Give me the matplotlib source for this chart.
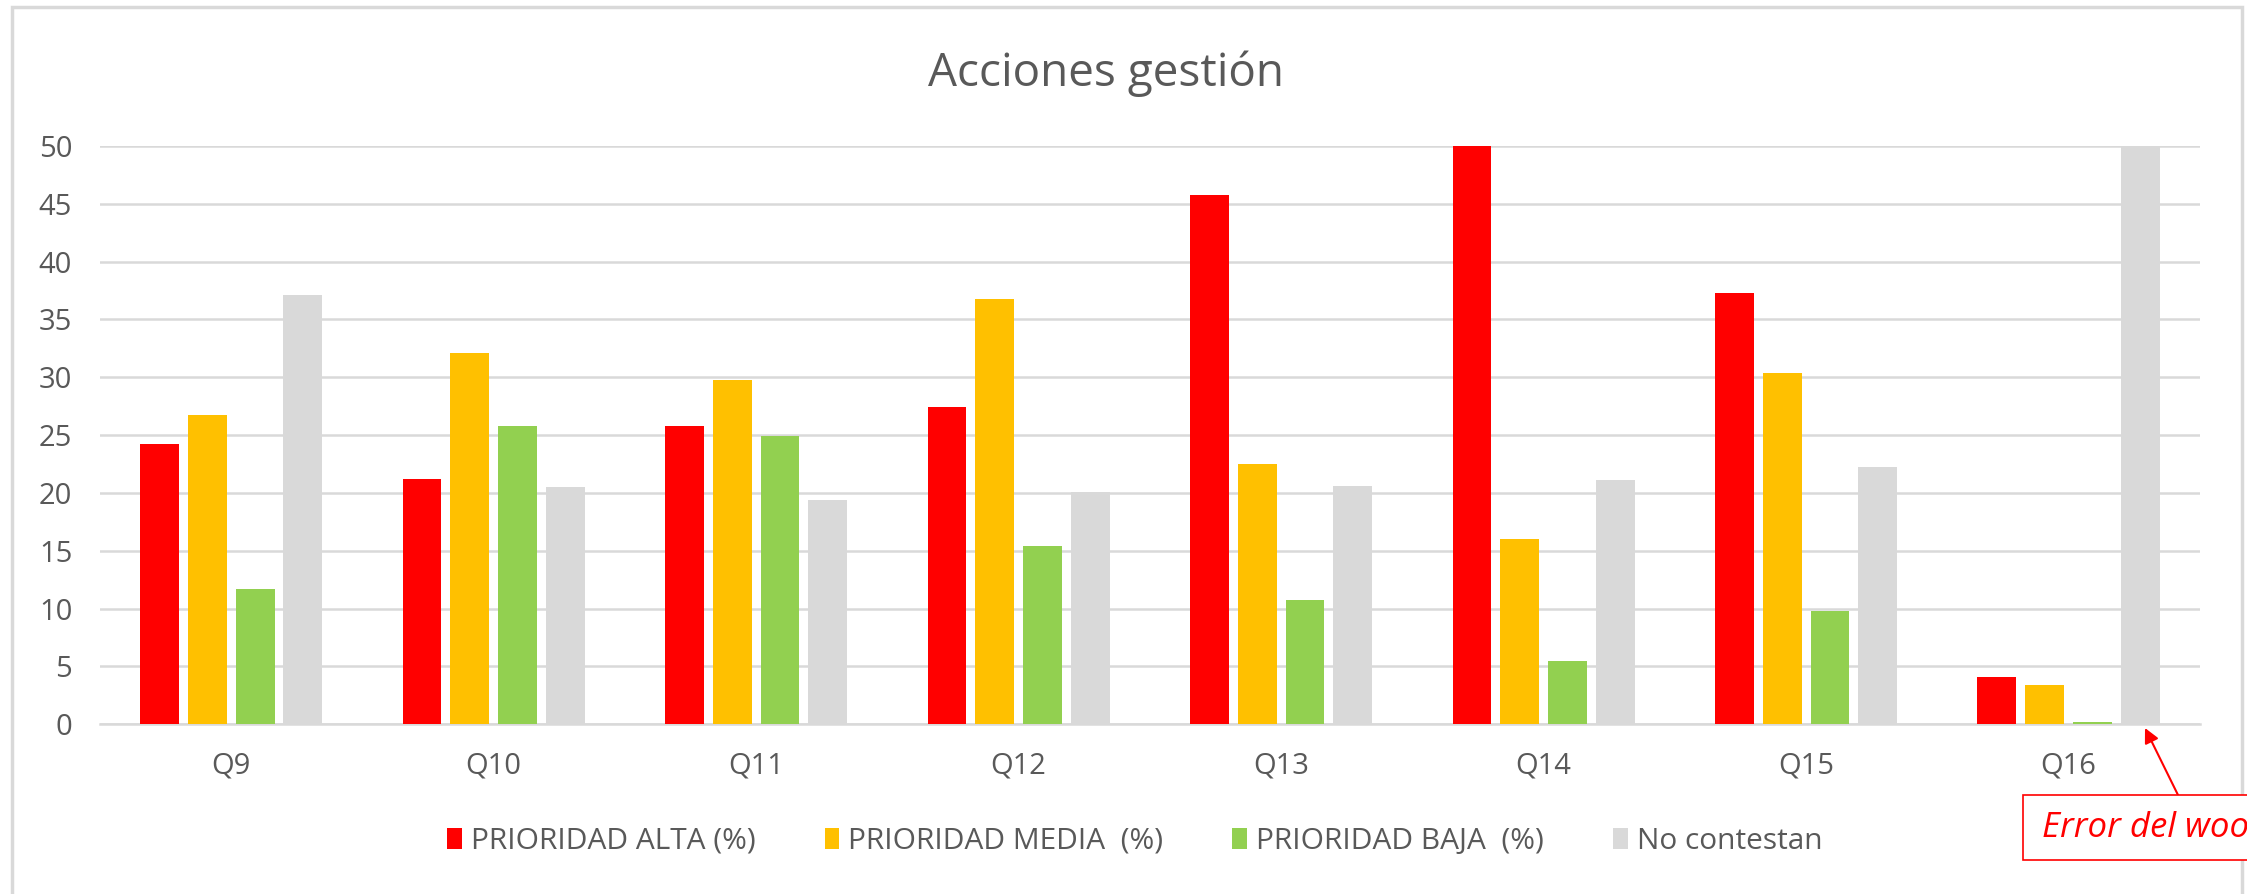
import matplotlib
matplotlib.use("Agg")
import matplotlib.pyplot as plt
from matplotlib.patches import Rectangle
import numpy as np

# data
categories = ["Q9", "Q10", "Q11", "Q12", "Q13", "Q14", "Q15", "Q16"]
alta = [24.2, 21.2, 25.8, 27.4, 45.8, 50.0, 37.3, 4.1]
media = [26.7, 32.1, 29.8, 36.8, 22.5, 16.0, 30.4, 3.4]
baja = [11.7, 25.8, 24.9, 15.4, 10.7, 5.5, 9.8, 0.2]
no_contestan = [37.1, 20.5, 19.4, 20.1, 20.6, 21.1, 22.2, 50.0]

series_names = ["PRIORIDAD ALTA (%)", "PRIORIDAD MEDIA  (%)", "PRIORIDAD BAJA  (%)", "No contestan"]
series_colors = ["#FF0000", "#FFC000", "#92D050", "#D9D9D9"]
yticks = [0, 5, 10, 15, 20, 25, 30, 35, 40, 45, 50]

plt.rcParams['font.family'] = ['Open Sans', 'DejaVu Sans']
text_grey = "#595959"

fig = plt.figure(figsize=(22.47, 8.94), dpi=100)
ax = fig.add_axes([0.0445, 0.190, 0.9345, 0.6467])

x = np.arange(len(categories))
width = 0.148
pitch = 0.182
all_series = [alta, media, baja, no_contestan]
for i, (vals, name, col) in enumerate(zip(all_series, series_names, series_colors)):
    offset = (i - 1.5) * pitch
    ax.bar(x + offset, vals, width, color=col, label=name, zorder=3)

ax.set_xlim(-0.5, len(categories) - 0.5)
ax.set_ylim(0, 50)
ax.set_yticks(yticks)
ax.set_xticks(x)
ax.set_xticklabels(categories)
ax.tick_params(axis='both', length=0, labelsize=21, colors=text_grey)
ax.tick_params(axis='x', pad=20)
ax.tick_params(axis='y', pad=20)
ax.grid(axis='y', color="#D9D9D9", linewidth=1.8, zorder=0)
for s in ["top", "right", "left"]:
    ax.spines[s].set_visible(False)
ax.spines["bottom"].set_color("#D9D9D9")
ax.spines["bottom"].set_linewidth(1.8)

fig.text(0.492, 0.918, "Acciones gestión", ha="center", va="center",
         fontsize=33, color=text_grey)

leg = fig.legend(loc="center", bbox_to_anchor=(0.505, 0.059), ncol=4, frameon=False,
                 fontsize=21.5, handlelength=0.5, handleheight=0.7, handletextpad=0.3,
                 columnspacing=2.3, labelcolor=text_grey)

# chart border
fig.patches.append(Rectangle((12 / 2247, -0.05), (2242 - 12) / 2247, 1.05 - 7 / 894,
                             transform=fig.transFigure, fill=False,
                             edgecolor="#D9D9D9", linewidth=2.5))

# annotation box with arrow
fig.patches.append(Rectangle((2023 / 2247, 1 - 860 / 894), 0.2, 65 / 894,
                             transform=fig.transFigure, facecolor="white",
                             edgecolor="#FF0000", linewidth=1.2, zorder=5))
fig.text(2042 / 2247, 1 - 828 / 894, "Error del woo", ha="left", va="center",
         fontsize=25, style="italic", color="#FF0000", zorder=6)
ax.annotate("", xy=(2145 / 2247, 1 - 728 / 894), xycoords="figure fraction",
            xytext=(2178 / 2247, 1 - 795 / 894), textcoords="figure fraction",
            arrowprops=dict(arrowstyle="-|>", color="#FF0000", lw=1.5,
                            mutation_scale=22, shrinkA=0, shrinkB=0),
            annotation_clip=False)

fig.savefig("out.png", dpi=100)
